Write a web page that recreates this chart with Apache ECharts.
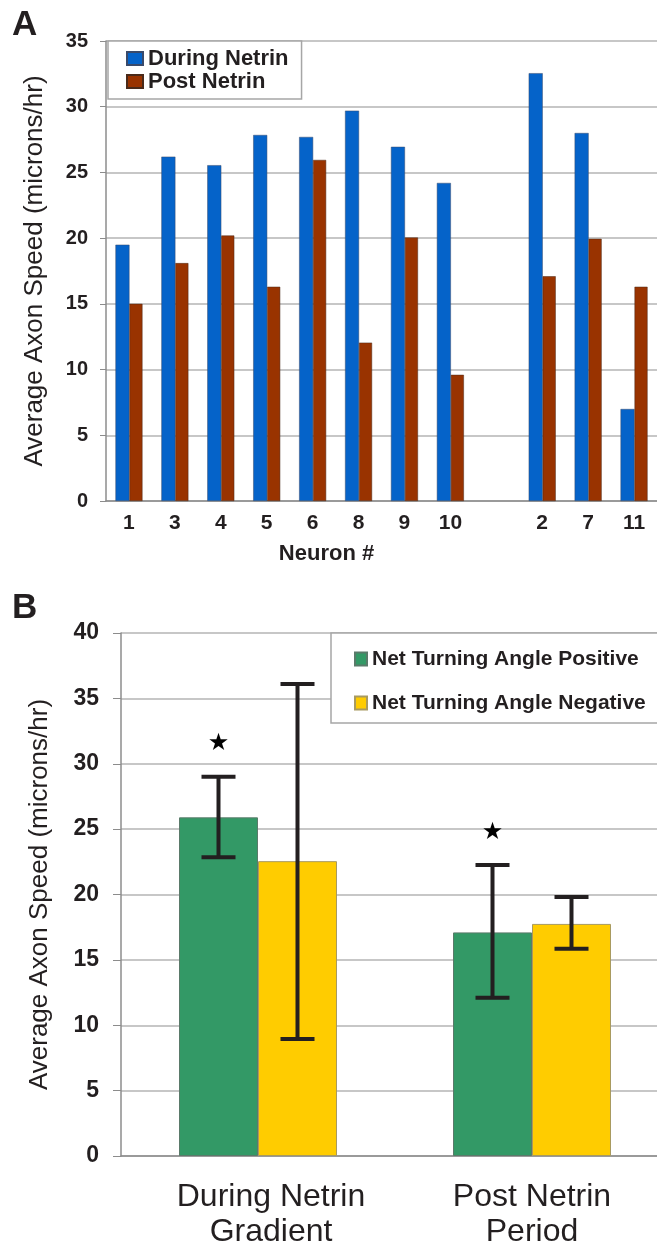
<!DOCTYPE html>
<html>
<head>
<meta charset="utf-8">
<script src="https://cdn.jsdelivr.net/npm/echarts@6/dist/echarts.min.js"></script>
<style>
html,body{margin:0;padding:0;background:#fff;}
#chart{width:657px;height:1247px;}
</style>
</head>
<body>
<div id="chart"></div>
<script>
// ---- Panel A data ----
const neuronLabels = ['1','3','4','5','6','8','9','10','','2','7','11'];
const duringNetrin = [19.5, 26.2, 25.55, 27.85, 27.7, 29.7, 26.95, 24.2, null, 32.55, 28.0, 7.0];
const postNetrin   = [15.0, 18.1, 20.2, 16.3, 25.95, 12.05, 20.05, 9.6, null, 17.1, 19.95, 16.3];
const yTicksA = {min: 0, max: 35, interval: 5};

// ---- Panel B data ----
const periodLabels = ['During Netrin\nGradient', 'Post Netrin\nPeriod'];
const anglePositive = [25.9, 17.1];
const angleNegative = [22.55, 17.75];
const positiveErrLow  = [22.85, 12.1];
const positiveErrHigh = [29.0, 22.25];
const negativeErrLow  = [8.95, 15.85];
const negativeErrHigh = [36.1, 19.8];
const starLevels = [31.55, 24.7];
const yTicksB = {min: 0, max: 40, interval: 5};

const TXT = '#231f20';
const GRID = '#b4b4b4';
const AXIS = '#8c8c8c';
const FONT = '"Liberation Sans", Arial, sans-serif';

const chart = echarts.init(document.getElementById('chart'), null, {renderer: 'canvas'});

function errorBarSeries(name, low, high, offset) {
  return {
    type: 'custom', name: name, xAxisIndex: 1, yAxisIndex: 1, z: 10,
    data: low.map((l, i) => [i, l, high[i]]),
    renderItem: function (params, api) {
      const lo = api.coord([api.value(0), api.value(1)]);
      const hi = api.coord([api.value(0), api.value(2)]);
      const x = lo[0] + offset;
      const hw = 17;
      const st = {stroke: '#231f20', lineWidth: 4};
      return {type: 'group', children: [
        {type: 'line', shape: {x1: x, y1: lo[1], x2: x, y2: hi[1]}, style: st},
        {type: 'line', shape: {x1: x - hw, y1: lo[1], x2: x + hw, y2: lo[1]}, style: st},
        {type: 'line', shape: {x1: x - hw, y1: hi[1], x2: x + hw, y2: hi[1]}, style: st}
      ]};
    }
  };
}

const option = {
  animation: false,
  backgroundColor: '#fff',
  textStyle: {fontFamily: FONT, color: TXT},
  graphic: [
    {type: 'text', left: 12, top: 8, style: {text: 'A', font: 'bold 35px ' + FONT, fill: TXT}},
    {type: 'text', left: 12, top: 591, style: {text: 'B', font: 'bold 35px ' + FONT, fill: TXT}}
  ],
  legend: [
    {
      data: ['During Netrin', 'Post Netrin'],
      orient: 'vertical', left: 108, top: 41,
      padding: [6, 13, 6, 18], itemGap: 0,
      borderColor: '#a6a6a6', borderWidth: 1.5, backgroundColor: '#fff',
      icon: 'rect', itemWidth: 16, itemHeight: 13,
      textStyle: {fontFamily: FONT, fontWeight: 'bold', fontSize: 22, color: TXT, lineHeight: 23}
    },
    {
      data: ['Net Turning Angle Positive', 'Net Turning Angle Negative'],
      orient: 'vertical', left: 331, top: 633,
      padding: [15, 40, 9, 23], itemGap: 22,
      borderColor: '#a6a6a6', borderWidth: 1.5, backgroundColor: '#fff',
      icon: 'rect', itemWidth: 12, itemHeight: 13,
      textStyle: {fontFamily: FONT, fontWeight: 'bold', fontSize: 21, color: TXT, lineHeight: 22}
    }
  ],
  grid: [
    {left: 106, right: 0, top: 41, bottom: 746, containLabel: false, outerBoundsMode: 'none'},
    {left: 121, width: 548, top: 633, bottom: 91, containLabel: false, outerBoundsMode: 'none'}
  ],
  xAxis: [
    {
      type: 'category', gridIndex: 0, data: neuronLabels,
      axisLine: {lineStyle: {color: AXIS, width: 1.5}},
      axisTick: {show: false},
      axisLabel: {fontFamily: FONT, fontWeight: 'bold', fontSize: 21, color: TXT, margin: 12, interval: 0},
      name: 'Neuron #', nameLocation: 'middle', nameGap: 42,
      nameTextStyle: {fontFamily: FONT, fontWeight: 'bold', fontSize: 22, color: TXT, padding: [0, 110, 0, 0]}
    },
    {
      type: 'category', gridIndex: 1, data: periodLabels,
      axisLine: {lineStyle: {color: AXIS, width: 1.5}},
      axisTick: {show: false},
      axisLabel: {
        interval: 0, margin: 24,
        formatter: function (v, i) {
          return v.split('\n').map(s => '{' + (i === 0 ? 'p' : 'c') + '|' + s + '}').join('\n');
        },
        rich: {
          p: {fontFamily: FONT, fontSize: 32, color: TXT, lineHeight: 35, padding: [0, 0, 0, 26]},
          c: {fontFamily: FONT, fontSize: 32, color: TXT, lineHeight: 35}
        }
      }
    }
  ],
  yAxis: [
    {
      type: 'value', gridIndex: 0, min: yTicksA.min, max: yTicksA.max, interval: yTicksA.interval,
      axisLine: {show: true, lineStyle: {color: AXIS, width: 1.5}},
      axisTick: {show: true, length: 6, lineStyle: {color: AXIS}},
      splitLine: {lineStyle: {color: GRID, width: 1.5}},
      axisLabel: {fontFamily: FONT, fontWeight: 'bold', fontSize: 20, color: TXT, margin: 18},
      name: 'Average Axon Speed (microns/hr)', nameLocation: 'middle', nameGap: 58,
      nameTextStyle: {fontFamily: FONT, fontSize: 26, color: TXT}
    },
    {
      type: 'value', gridIndex: 1, min: yTicksB.min, max: yTicksB.max, interval: yTicksB.interval,
      axisLine: {show: true, lineStyle: {color: AXIS, width: 1.5}},
      axisTick: {show: true, length: 8, lineStyle: {color: AXIS}},
      splitLine: {lineStyle: {color: GRID, width: 1.5}},
      axisLabel: {fontFamily: FONT, fontWeight: 'bold', fontSize: 23, color: TXT, margin: 22},
      name: 'Average Axon Speed (microns/hr)', nameLocation: 'middle', nameGap: 68,
      nameTextStyle: {fontFamily: FONT, fontSize: 26, color: TXT}
    }
  ],
  series: [
    {
      name: 'During Netrin', type: 'bar', xAxisIndex: 0, yAxisIndex: 0,
      data: duringNetrin, barWidth: 14, barGap: 0,
      itemStyle: {color: '#0563c9', borderColor: '#3a4a6a', borderWidth: 0.5}
    },
    {
      name: 'Post Netrin', type: 'bar', xAxisIndex: 0, yAxisIndex: 0,
      data: postNetrin, barWidth: 13, barGap: 0,
      itemStyle: {color: '#993300', borderColor: '#4a2a1a', borderWidth: 0.5}
    },
    {
      name: 'Net Turning Angle Positive', type: 'bar', xAxisIndex: 1, yAxisIndex: 1,
      data: anglePositive, barWidth: 79, barGap: 0,
      itemStyle: {color: '#339966', borderColor: '#5a7a6a', borderWidth: 1}
    },
    {
      name: 'Net Turning Angle Negative', type: 'bar', xAxisIndex: 1, yAxisIndex: 1,
      data: angleNegative, barWidth: 79, barGap: 0,
      itemStyle: {color: '#ffcc00', borderColor: '#a89a60', borderWidth: 1}
    },
    errorBarSeries('errPos', positiveErrLow, positiveErrHigh, -39.5),
    errorBarSeries('errNeg', negativeErrLow, negativeErrHigh, 39.5),
    {
      name: 'stars', type: 'custom', xAxisIndex: 1, yAxisIndex: 1, z: 11,
      data: starLevels.map((v, i) => [i, v]),
      renderItem: function (params, api) {
        const p = api.coord([api.value(0), api.value(1)]);
        return {type: 'text', x: p[0] - 39.5, y: p[1],
          style: {text: '\u2605', font: '24px "DejaVu Sans"', fill: '#000', align: 'center', verticalAlign: 'middle'}};
      }
    }
  ]
};
chart.setOption(option);
</script>
</body>
</html>
